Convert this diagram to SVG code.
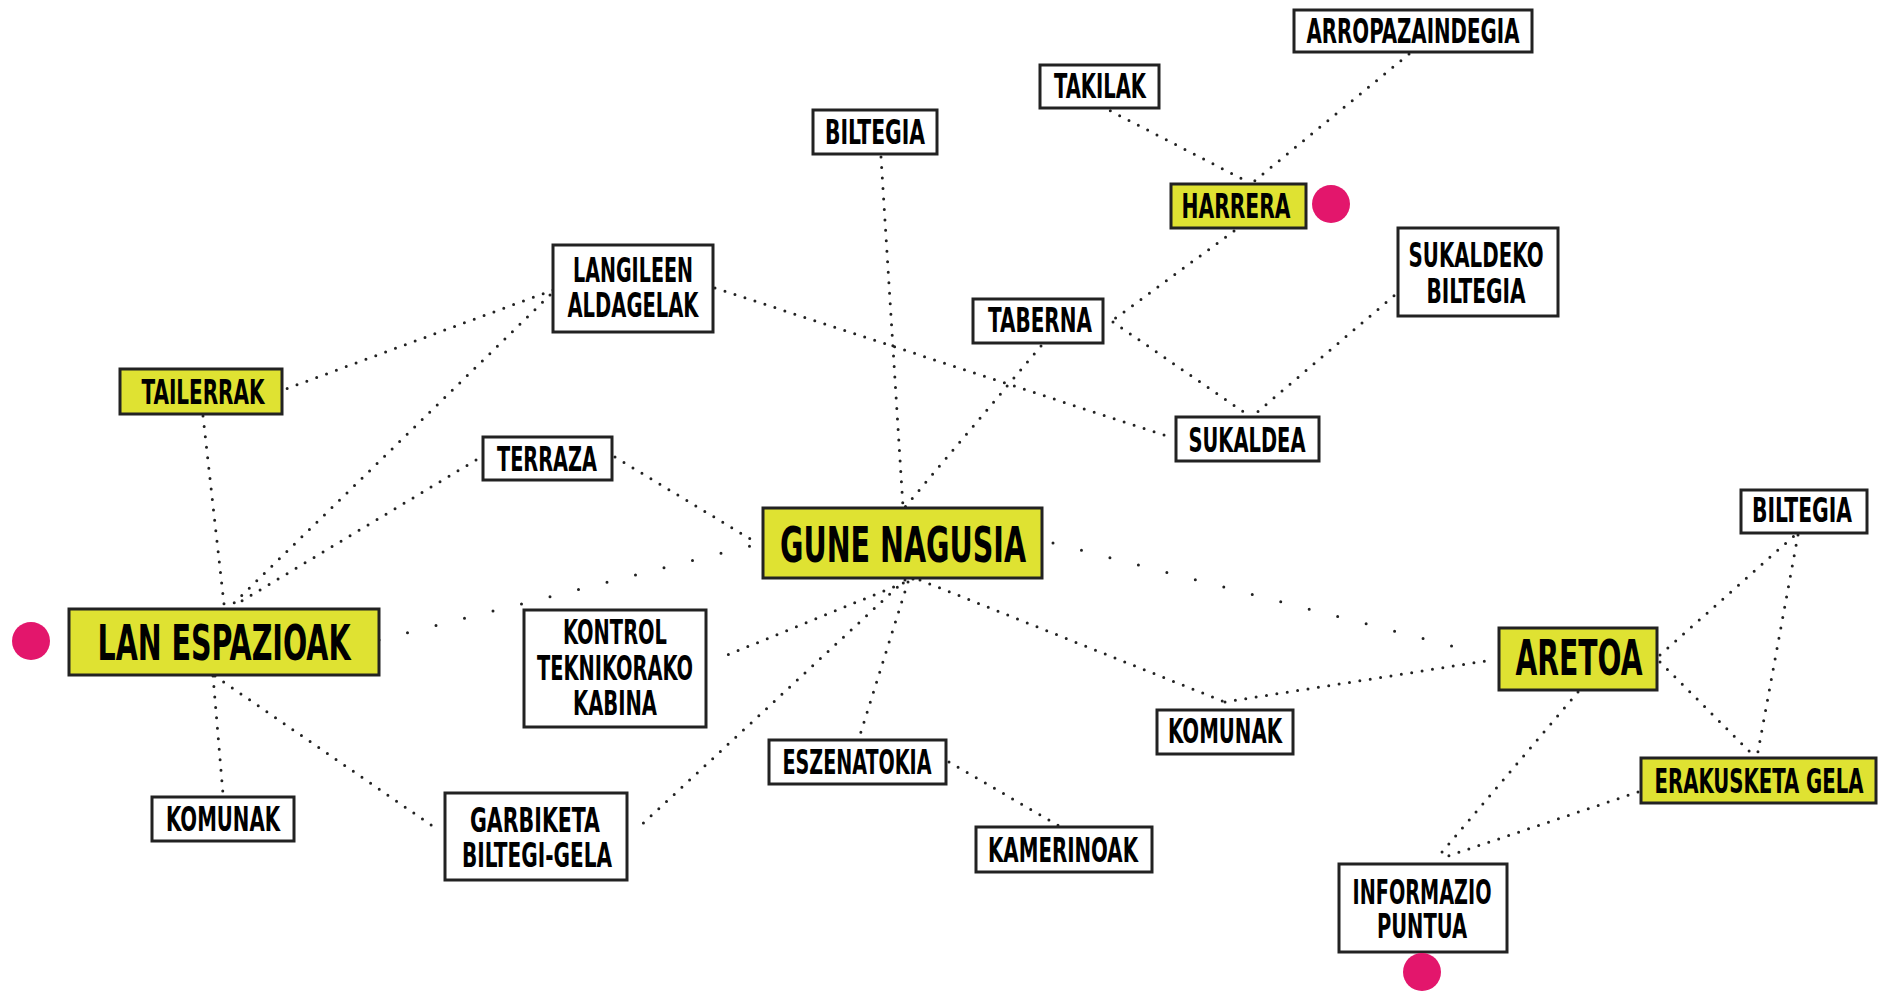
<svg xmlns="http://www.w3.org/2000/svg" width="1883" height="991" viewBox="0 0 1883 991">
<style>
.bx{fill:#fff;stroke:#222;stroke-width:3}
.hl{fill:#DFE232;stroke:#222;stroke-width:3}
.t{font-family:"Liberation Sans Narrow","DejaVu Sans Condensed","Liberation Sans",sans-serif;font-weight:bold;font-size:33px;fill:#000;text-anchor:middle}
.tb{font-size:49px}
.c line{stroke:#222;stroke-width:3;stroke-linecap:round;stroke-dasharray:0 10.5;fill:none}
.c line.sp{stroke-dasharray:0 29.4}
.dot{fill:#E3166C}
</style>
<rect width="1883" height="991" fill="#fff"/>
<g id="connectors" class="c">
<line x1="1101" y1="106" x2="1250" y2="183"/>
<line x1="1409" y1="54" x2="1252" y2="183"/>
<line x1="1234" y1="231" x2="1113" y2="320"/>
<line x1="1113" y1="322" x2="1248" y2="415"/>
<line x1="1402" y1="289" x2="1255" y2="414"/>
<line x1="715" y1="288" x2="1173" y2="438"/>
<line x1="553" y1="290" x2="283" y2="390"/>
<line x1="550" y1="295" x2="232" y2="605"/>
<line x1="476" y1="460" x2="240" y2="602"/>
<line x1="203" y1="416" x2="224" y2="604"/>
<line x1="615" y1="457" x2="757" y2="543"/>
<line x1="881" y1="157" x2="903" y2="507"/>
<line x1="1041" y1="346" x2="905" y2="507"/>
<line x1="913" y1="579" x2="720" y2="658"/>
<line x1="905" y1="580" x2="638" y2="828"/>
<line x1="908" y1="582" x2="860" y2="735"/>
<line x1="920" y1="580" x2="1225" y2="702"/>
<line x1="1225" y1="702" x2="1492" y2="660"/>
<line x1="1660" y1="655" x2="1795" y2="535"/>
<line x1="1798" y1="535" x2="1757" y2="757"/>
<line x1="1660" y1="662" x2="1755" y2="757"/>
<line x1="1578" y1="692" x2="1437" y2="858"/>
<line x1="1638" y1="792" x2="1442" y2="858"/>
<line x1="213" y1="676" x2="223" y2="794"/>
<line x1="215" y1="676" x2="434" y2="827"/>
<line x1="949" y1="762" x2="1061" y2="827"/>
<line class="sp" x1="379" y1="640" x2="750" y2="546"/>
<line class="sp" x1="1053" y1="543" x2="1479" y2="653"/>
</g>
<g id="n-arropazaindegia"><rect class="bx" x="1294" y="10" width="238" height="42"/><text class="t" x="1413" y="43" textLength="213" lengthAdjust="spacingAndGlyphs">ARROPAZAINDEGIA</text></g>
<g id="n-takilak"><rect class="bx" x="1040" y="65" width="119" height="43"/><text class="t" x="1100" y="98" textLength="92" lengthAdjust="spacingAndGlyphs">TAKILAK</text></g>
<g id="n-biltegia-top"><rect class="bx" x="813" y="110" width="124" height="44"/><text class="t" x="875" y="144" textLength="100" lengthAdjust="spacingAndGlyphs">BILTEGIA</text></g>
<g id="n-harrera"><rect class="hl" x="1171" y="184" width="135" height="44"/><text class="t" x="1236" y="218" textLength="109" lengthAdjust="spacingAndGlyphs">HARRERA</text><circle class="dot" cx="1331" cy="204" r="19"/></g>
<g id="n-sukaldeko-biltegia"><rect class="bx" x="1398" y="228" width="160" height="88"/><text class="t" x="1476" y="267" textLength="135" lengthAdjust="spacingAndGlyphs">SUKALDEKO</text><text class="t" x="1476" y="303" textLength="99" lengthAdjust="spacingAndGlyphs">BILTEGIA</text></g>
<g id="n-langileen-aldagelak"><rect class="bx" x="553" y="245" width="160" height="87"/><text class="t" x="633" y="282" textLength="120" lengthAdjust="spacingAndGlyphs">LANGILEEN</text><text class="t" x="633" y="317" textLength="131" lengthAdjust="spacingAndGlyphs">ALDAGELAK</text></g>
<g id="n-taberna"><rect class="bx" x="973" y="299" width="130" height="44"/><text class="t" x="1040" y="332" textLength="104" lengthAdjust="spacingAndGlyphs">TABERNA</text></g>
<g id="n-tailerrak"><rect class="hl" x="120" y="369" width="162" height="45"/><text class="t" x="203" y="404" textLength="123" lengthAdjust="spacingAndGlyphs">TAILERRAK</text></g>
<g id="n-sukaldea"><rect class="bx" x="1176" y="417" width="143" height="44"/><text class="t" x="1247" y="452" textLength="117" lengthAdjust="spacingAndGlyphs">SUKALDEA</text></g>
<g id="n-terraza"><rect class="bx" x="483" y="437" width="129" height="43"/><text class="t" x="547" y="471" textLength="100" lengthAdjust="spacingAndGlyphs">TERRAZA</text></g>
<g id="n-gune-nagusia"><rect class="hl" x="763" y="508" width="279" height="70"/><text class="t tb" x="903" y="562" textLength="246" lengthAdjust="spacingAndGlyphs">GUNE NAGUSIA</text></g>
<g id="n-biltegia-right"><rect class="bx" x="1741" y="490" width="126" height="43"/><text class="t" x="1802" y="522" textLength="100" lengthAdjust="spacingAndGlyphs">BILTEGIA</text></g>
<g id="n-lan-espazioak"><rect class="hl" x="69" y="609" width="310" height="66"/><text class="t tb" x="224" y="660" textLength="253" lengthAdjust="spacingAndGlyphs">LAN ESPAZIOAK</text><circle class="dot" cx="31" cy="641" r="19"/></g>
<g id="n-kontrol"><rect class="bx" x="524" y="610" width="182" height="117"/><text class="t" x="615" y="644" textLength="104" lengthAdjust="spacingAndGlyphs">KONTROL</text><text class="t" x="615" y="680" textLength="156" lengthAdjust="spacingAndGlyphs">TEKNIKORAKO</text><text class="t" x="615" y="715" textLength="84" lengthAdjust="spacingAndGlyphs">KABINA</text></g>
<g id="n-aretoa"><rect class="hl" x="1499" y="628" width="158" height="62"/><text class="t tb" x="1579" y="675" textLength="127" lengthAdjust="spacingAndGlyphs">ARETOA</text></g>
<g id="n-komunak-mid"><rect class="bx" x="1157" y="710" width="136" height="44"/><text class="t" x="1225" y="743" textLength="114" lengthAdjust="spacingAndGlyphs">KOMUNAK</text></g>
<g id="n-eszenatokia"><rect class="bx" x="769" y="740" width="177" height="44"/><text class="t" x="857" y="774" textLength="149" lengthAdjust="spacingAndGlyphs">ESZENATOKIA</text></g>
<g id="n-erakusketa-gela"><rect class="hl" x="1641" y="758" width="235" height="45"/><text class="t" x="1759" y="793" textLength="209" lengthAdjust="spacingAndGlyphs">ERAKUSKETA GELA</text></g>
<g id="n-komunak-left"><rect class="bx" x="152" y="797" width="142" height="44"/><text class="t" x="223" y="831" textLength="114" lengthAdjust="spacingAndGlyphs">KOMUNAK</text></g>
<g id="n-garbiketa"><rect class="bx" x="445" y="793" width="182" height="87"/><text class="t" x="535" y="832" textLength="130" lengthAdjust="spacingAndGlyphs">GARBIKETA</text><text class="t" x="537" y="867" textLength="150" lengthAdjust="spacingAndGlyphs">BILTEGI-GELA</text></g>
<g id="n-kamerinoak"><rect class="bx" x="976" y="827" width="176" height="45"/><text class="t" x="1063" y="862" textLength="150" lengthAdjust="spacingAndGlyphs">KAMERINOAK</text></g>
<g id="n-informazio-puntua"><rect class="bx" x="1339" y="864" width="168" height="88"/><text class="t" x="1422" y="904" textLength="139" lengthAdjust="spacingAndGlyphs">INFORMAZIO</text><text class="t" x="1422" y="938" textLength="90" lengthAdjust="spacingAndGlyphs">PUNTUA</text><circle class="dot" cx="1422" cy="972" r="19"/></g>
</svg>
